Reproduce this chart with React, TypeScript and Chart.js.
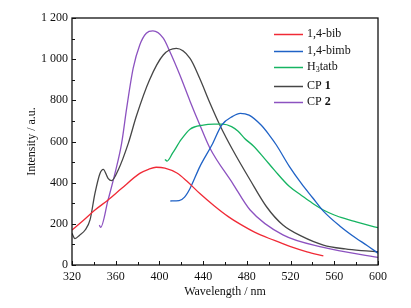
import React, { useEffect, useRef } from "react";
import { Chart, registerables } from "chart.js";
Chart.register(...registerables);

// 1,4-bib (red)
const bibX = [320, 330, 341, 353, 365, 382, 390, 397, 405, 416, 425, 437, 450, 463, 475, 487, 500, 510, 520, 535, 550];
const bibY = [170, 215, 267, 316, 370, 445, 465, 475, 471, 447, 408, 347, 288, 235, 195, 160, 130, 110, 89, 64, 44];
// 1,4-bimb (blue)
const bimbX = [410, 418, 423, 428, 437, 448, 457, 467, 474, 482, 493, 500, 507, 519, 530, 540, 550, 565, 580, 590, 600];
const bimbY = [311, 313, 330, 372, 478, 583, 680, 722, 737, 728, 680, 635, 583, 478, 395, 328, 262, 190, 130, 95, 57];
// H3tatb (green)
const tatbX = [405, 407, 412, 420, 428, 440, 450, 458, 466, 472, 478, 486, 496, 505, 519, 530, 540, 550, 560, 570, 580, 590, 600];
const tatbY = [513, 505, 543, 610, 660, 680, 684, 684, 672, 650, 615, 578, 518, 462, 381, 338, 300, 267, 243, 225, 210, 195, 181];
// CP 1 (dark grey)
const cp1X = [320, 322.7, 327, 332, 336.5, 341, 345.6, 348.6, 353, 356.3, 362.3, 371.5, 379, 391, 403.5, 415.5, 428, 437, 446, 456, 467, 483, 498, 513, 530, 550, 570, 585, 600];
const cp1Y = [154, 128, 145, 170, 219, 348, 445, 465, 421, 410, 462, 591, 725, 900, 1020, 1052, 1004, 905, 790, 672, 560, 413, 283, 194, 140, 97, 78, 70, 65];
// CP 2 (purple)
const cp2X = [345, 346.2, 353, 359.3, 365.4, 370, 376, 382, 388, 394, 403.5, 409.6, 418.7, 428, 437, 446, 467, 483, 513, 550, 600];
const cp2Y = [194, 183, 316, 445, 591, 761, 956, 1069, 1126, 1137, 1102, 1036, 923, 796, 680, 570, 397, 267, 146, 86, 37];

const seriesNames = ["1,4-bib", "1,4-bimb", "H3tatb", "CP 1", "CP 2"];
const seriesColors = ["#f02a36", "#1f62c6", "#16b462", "#464646", "#8c52c0"];

const xMin = 320, xMax = 600, xStep = 40, xMinor = 20;
const yMin = 0, yMax = 1200, yStep = 200, yMinor = 100;

const FONT = "'Liberation Serif', 'Times New Roman', serif";

function pts(xs: number[], ys: number[]) {
  return xs.map((x, i) => ({ x, y: ys[i] }));
}

const framePlugin = {
  id: "frameTicks",
  afterDraw(chart: any) {
    const { ctx, chartArea: a, scales } = chart;
    const xs = scales.x, ys = scales.y;
    ctx.save();
    ctx.strokeStyle = "#111";
    ctx.lineWidth = 1.3;
    ctx.strokeRect(a.left, a.top, a.right - a.left, a.bottom - a.top);
    ctx.lineWidth = 1;
    ctx.beginPath();
    for (let v = xMin; v <= xMax; v += xMinor) {
      const px = Math.round(xs.getPixelForValue(v)) + 0.5;
      const len = (v - xMin) % xStep === 0 ? 4 : 3;
      ctx.moveTo(px, a.bottom);
      ctx.lineTo(px, a.bottom - len);
    }
    for (let v = yMin; v <= yMax; v += yMinor) {
      const py = Math.round(ys.getPixelForValue(v)) + 0.5;
      const len = (v - yMin) % yStep === 0 ? 4 : 3;
      ctx.moveTo(a.left, py);
      ctx.lineTo(a.left + len, py);
    }
    ctx.stroke();

    // legend
    const lx1 = 274, lx2 = 303, tx = 307;
    const rows = [34, 51, 67, 86, 102];
    ctx.textBaseline = "middle";
    ctx.fillStyle = "#111";
    rows.forEach((ry, i) => {
      ctx.strokeStyle = seriesColors[i];
      ctx.lineWidth = 1.5;
      ctx.beginPath();
      ctx.moveTo(lx1, ry + 0.5);
      ctx.lineTo(lx2, ry + 0.5);
      ctx.stroke();
      ctx.fillStyle = "#111";
      ctx.font = `12px ${FONT}`;
      const name = seriesNames[i];
      if (name === "H3tatb") {
        ctx.fillText("H", tx, ry);
        let w = ctx.measureText("H").width;
        ctx.font = `8px ${FONT}`;
        ctx.fillText("3", tx + w, ry + 3);
        w += ctx.measureText("3").width;
        ctx.font = `12px ${FONT}`;
        ctx.fillText("tatb", tx + w, ry);
      } else if (name.startsWith("CP ")) {
        ctx.fillText("CP ", tx, ry);
        const w = ctx.measureText("CP ").width;
        ctx.font = `bold 12px ${FONT}`;
        ctx.fillText(name.slice(3), tx + w, ry);
      } else {
        ctx.fillText(name, tx, ry);
      }
    });
    ctx.restore();
  },
};

export default function App() {
  const ref = useRef<HTMLCanvasElement | null>(null);
  useEffect(() => {
    if (!ref.current) return;
    const xsAll = [bibX, bimbX, tatbX, cp1X, cp2X];
    const ysAll = [bibY, bimbY, tatbY, cp1Y, cp2Y];
    const chart = new Chart(ref.current, {
      type: "line",
      data: {
        datasets: seriesNames.map((n, i) => ({
          label: n,
          data: pts(xsAll[i], ysAll[i]),
          borderColor: seriesColors[i],
          backgroundColor: seriesColors[i],
          borderWidth: 1.3,
          pointRadius: 0,
          cubicInterpolationMode: "monotone" as const,
          fill: false,
        })),
      },
      options: {
        animation: false,
        responsive: false,
        devicePixelRatio: 1,
        layout: { padding: { left: 0, top: 18, right: 33, bottom: 0 } },
        plugins: { legend: { display: false }, tooltip: { enabled: false } },
        scales: {
          x: {
            type: "linear",
            min: xMin,
            max: xMax,
            afterFit: (s: any) => { s.height = 43; },
            ticks: { stepSize: xStep, color: "#111", font: { family: FONT, size: 12 }, padding: 5, maxRotation: 0 },
            grid: { display: false, drawTicks: false, tickLength: 0 },
            border: { display: false },
            title: { display: true, text: "Wavelength / nm", color: "#111", font: { family: FONT, size: 12 }, padding: { top: 0, bottom: 9 } },
          },
          y: {
            type: "linear",
            min: yMin,
            max: yMax,
            afterFit: (s: any) => { s.width = 72; },
            ticks: {
              stepSize: yStep,
              color: "#111",
              font: { family: FONT, size: 12 },
              padding: 4,
              callback: (v: any) => String(v).replace(/\B(?=(\d{3})+(?!\d))/g, " "),
            },
            grid: { display: false, drawTicks: false, tickLength: 0 },
            border: { display: false },
            title: { display: true, text: "Intensity / a.u.", color: "#111", font: { family: FONT, size: 12 }, padding: { top: 25, bottom: 0 } },
          },
        },
      },
      plugins: [framePlugin],
    });
    return () => chart.destroy();
  }, []);
  return (
    <div style={{ position: "absolute", left: 0, top: 0, width: 411, height: 308, background: "#fff" }}>
      <canvas ref={ref} width={411} height={308} style={{ width: 411, height: 308, display: "block" }} />
    </div>
  );
}
